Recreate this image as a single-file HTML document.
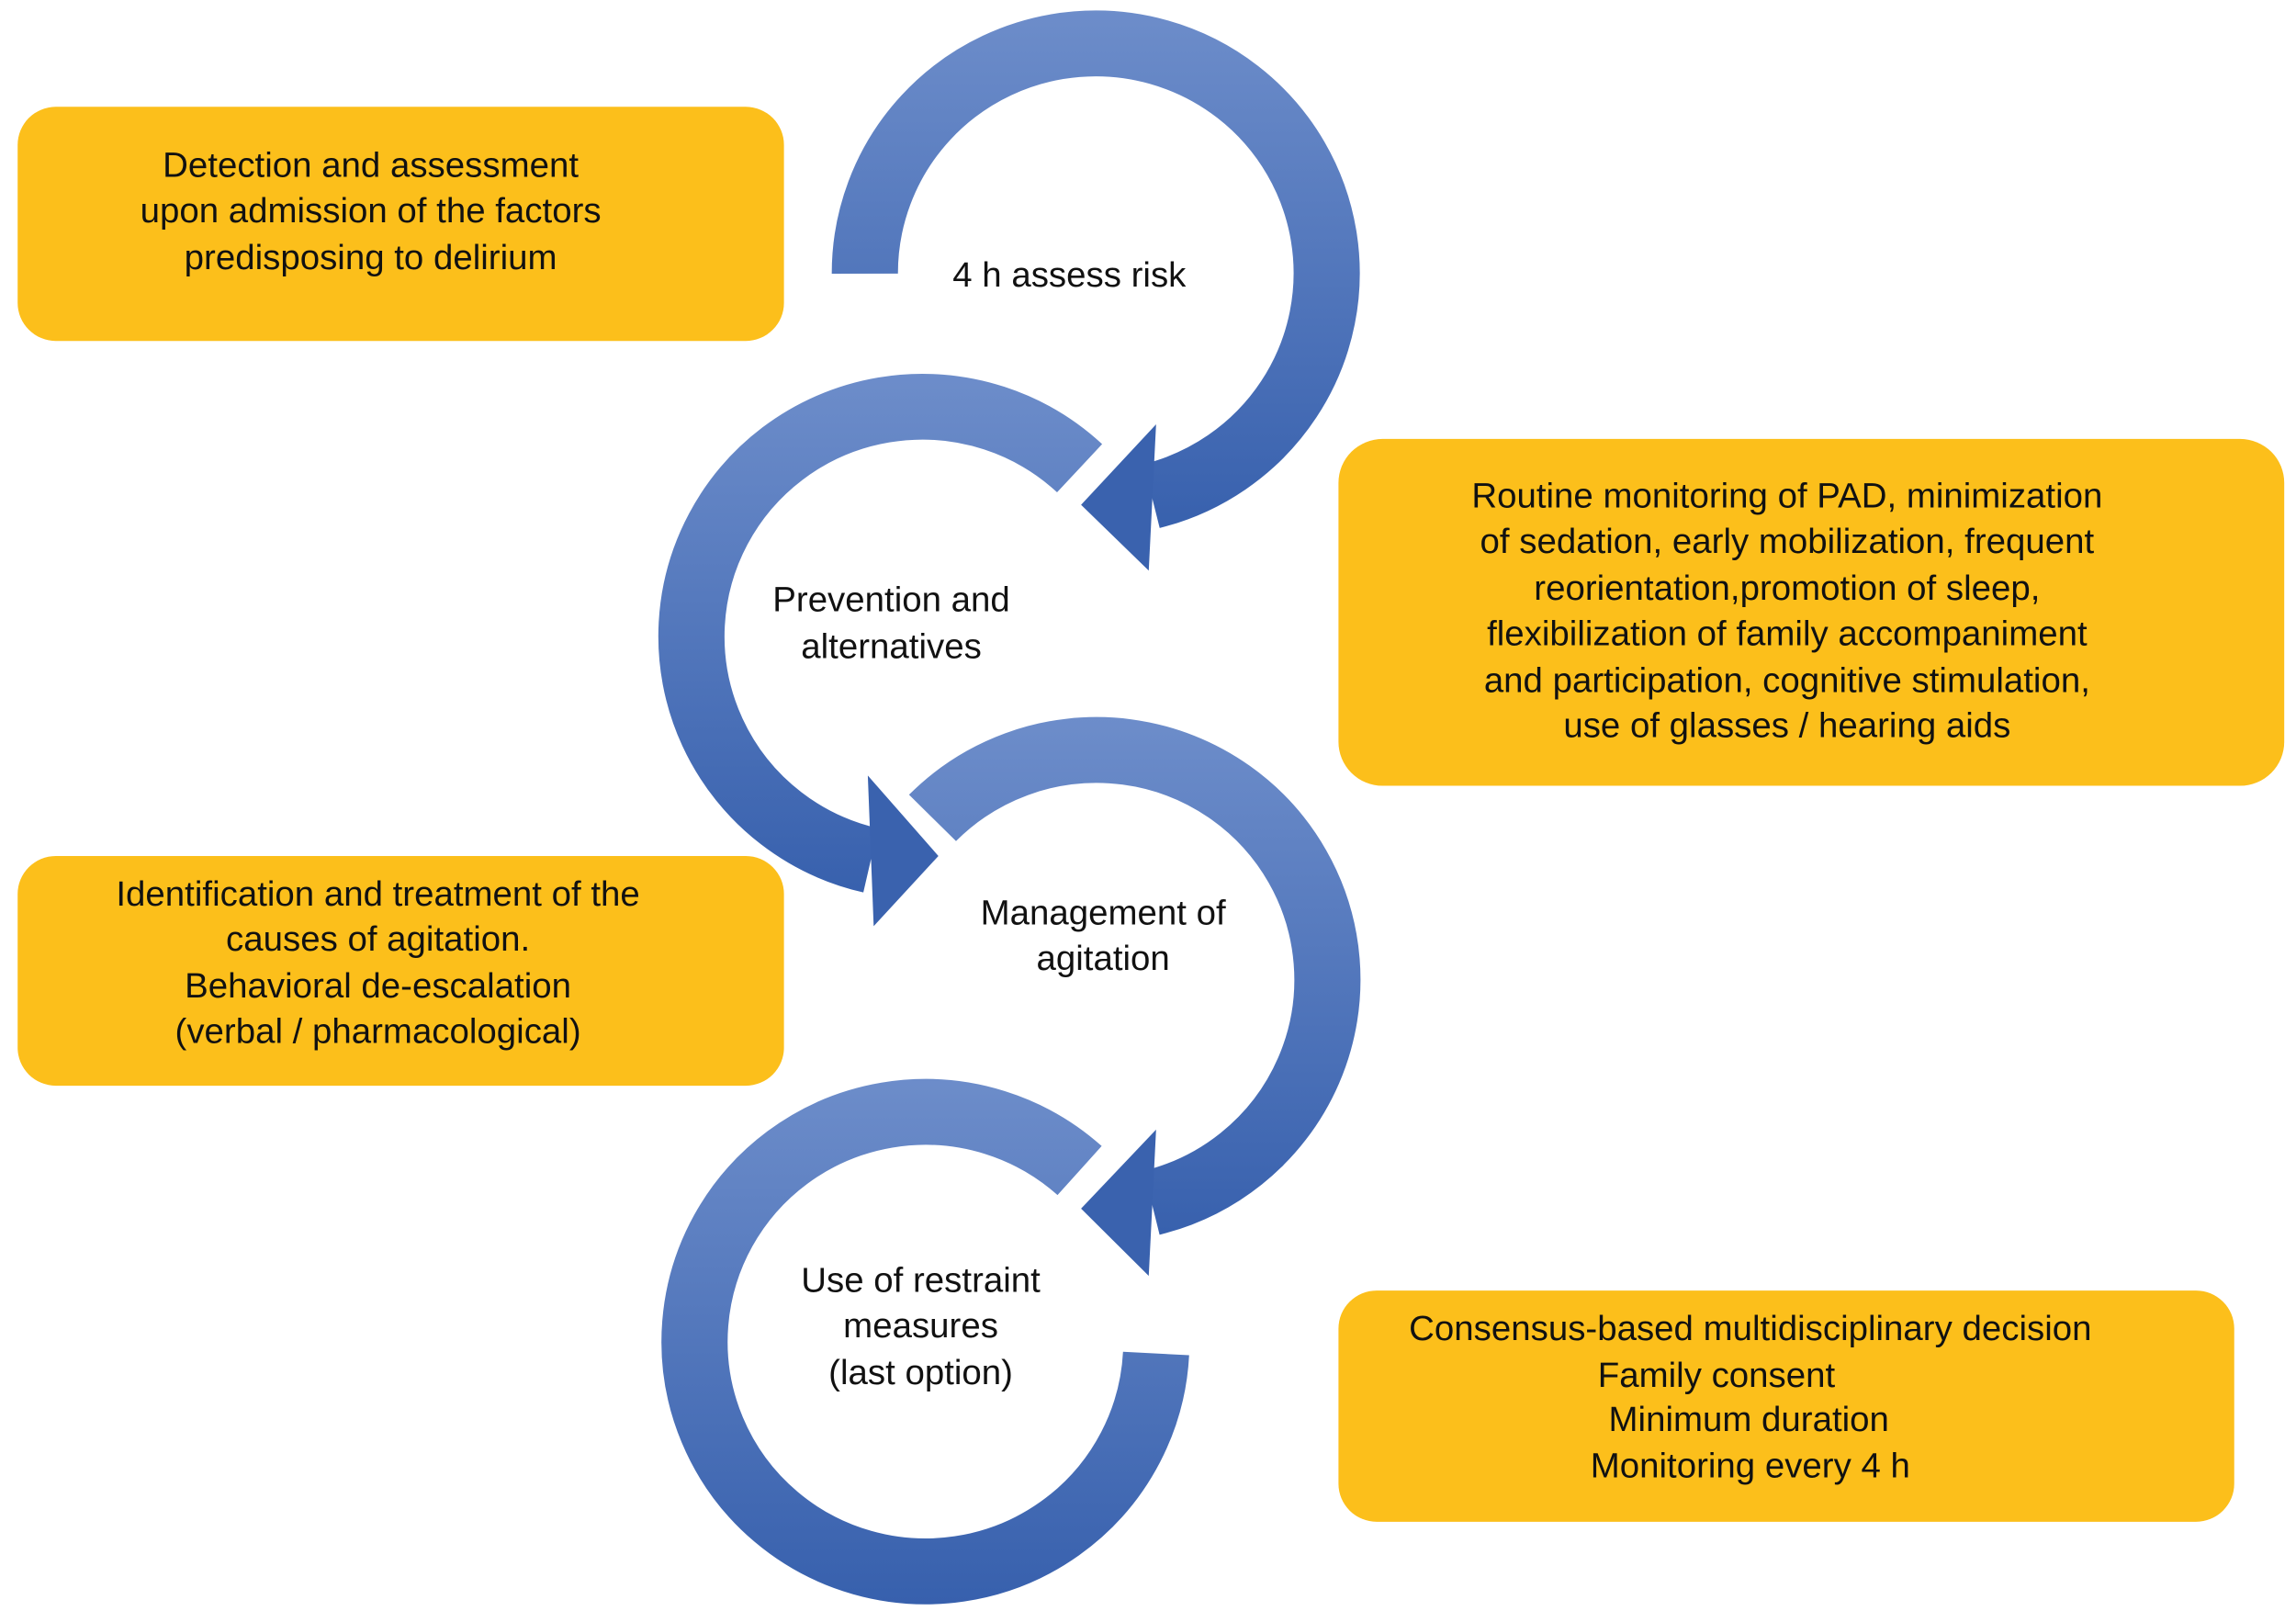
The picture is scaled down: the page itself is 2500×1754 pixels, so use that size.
<!DOCTYPE html>
<html><head><meta charset="utf-8">
<style>
html,body{margin:0;padding:0;background:#fff;}
svg{display:block;}
text{font-family:"Liberation Sans",Arial,sans-serif;font-size:24px;fill:#111;}
</style></head>
<body>
<svg width="2500" height="1754" viewBox="0 0 1561 1101" preserveAspectRatio="none" xmlns="http://www.w3.org/2000/svg">
<defs>
<linearGradient id="g1" gradientUnits="userSpaceOnUse" x1="0" y1="7" x2="0" y2="367"><stop offset="0" stop-color="#6d8dca"/><stop offset="1" stop-color="#3760ad"/></linearGradient>
<linearGradient id="g2" gradientUnits="userSpaceOnUse" x1="0" y1="255" x2="0" y2="615"><stop offset="0" stop-color="#6d8dca"/><stop offset="1" stop-color="#3760ad"/></linearGradient>
<linearGradient id="g3" gradientUnits="userSpaceOnUse" x1="0" y1="490" x2="0" y2="850"><stop offset="0" stop-color="#6d8dca"/><stop offset="1" stop-color="#3760ad"/></linearGradient>
<linearGradient id="g4" gradientUnits="userSpaceOnUse" x1="0" y1="735" x2="0" y2="1097"><stop offset="0" stop-color="#6d8dca"/><stop offset="1" stop-color="#3760ad"/></linearGradient>
</defs>
<rect width="1561" height="1101" fill="#fff"/>

<!-- rings -->
<path d="M588 187 A157 157 0 1 1 783 339" fill="none" stroke="url(#g1)" stroke-width="45"/>
<polygon points="786,290 781,390 735,345" fill="#3a62ae"/>

<path d="M734 320 A157 157 0 1 0 592 588" fill="none" stroke="url(#g2)" stroke-width="45"/>
<polygon points="590,530 594,633 638,585" fill="#3a62ae"/>

<path d="M634 559 A157 157 0 1 1 783 822" fill="none" stroke="url(#g3)" stroke-width="45"/>
<polygon points="786,772 781,872 735,826" fill="#3a62ae"/>

<path d="M734 800 A157 157 0 1 0 786 925" fill="none" stroke="url(#g4)" stroke-width="45"/>

<!-- ring labels -->
<g text-anchor="middle" dominant-baseline="central">
<text x="727" y="188">4 h assess risk</text>
<text x="606" y="410">Prevention and</text>
<text x="606" y="442">alternatives</text>
<text x="750" y="624">Management of</text>
<text x="750" y="655">agitation</text>
<text x="626" y="875">Use of restraint</text>
<text x="626" y="906">measures</text>
<text x="626" y="938">(last option)</text>
</g>

<!-- yellow boxes -->
<g fill="#fcbf1b">
<rect x="12" y="73" width="521" height="160" rx="26"/>
<rect x="910" y="300" width="643" height="237" rx="30"/>
<rect x="12" y="585" width="521" height="157" rx="26"/>
<rect x="910" y="882" width="609" height="158" rx="26"/>
</g>
<g text-anchor="middle" dominant-baseline="central">
<text x="252" y="113">Detection and assessment</text>
<text x="252" y="144">upon admission of the factors</text>
<text x="252" y="176">predisposing to delirium</text>

<text x="1215" y="339">Routine monitoring of PAD, minimization</text>
<text x="1215" y="370">of sedation, early mobilization, frequent</text>
<text x="1215" y="402">reorientation,promotion of sleep,</text>
<text x="1215" y="433">flexibilization of family accompaniment</text>
<text x="1215" y="465">and participation, cognitive stimulation,</text>
<text x="1215" y="496">use of glasses / hearing aids</text>

<text x="257" y="611">Identification and treatment of the</text>
<text x="257" y="642">causes of agitation.</text>
<text x="257" y="674">Behavioral de-escalation</text>
<text x="257" y="705">(verbal / pharmacological)</text>

<text x="1190" y="908">Consensus-based multidisciplinary decision</text>
<text x="1167" y="940">Family consent</text>
<text x="1189" y="970">Minimum duration</text>
<text x="1190" y="1002">Monitoring every 4 h</text>
</g>
</svg>
</body></html>
